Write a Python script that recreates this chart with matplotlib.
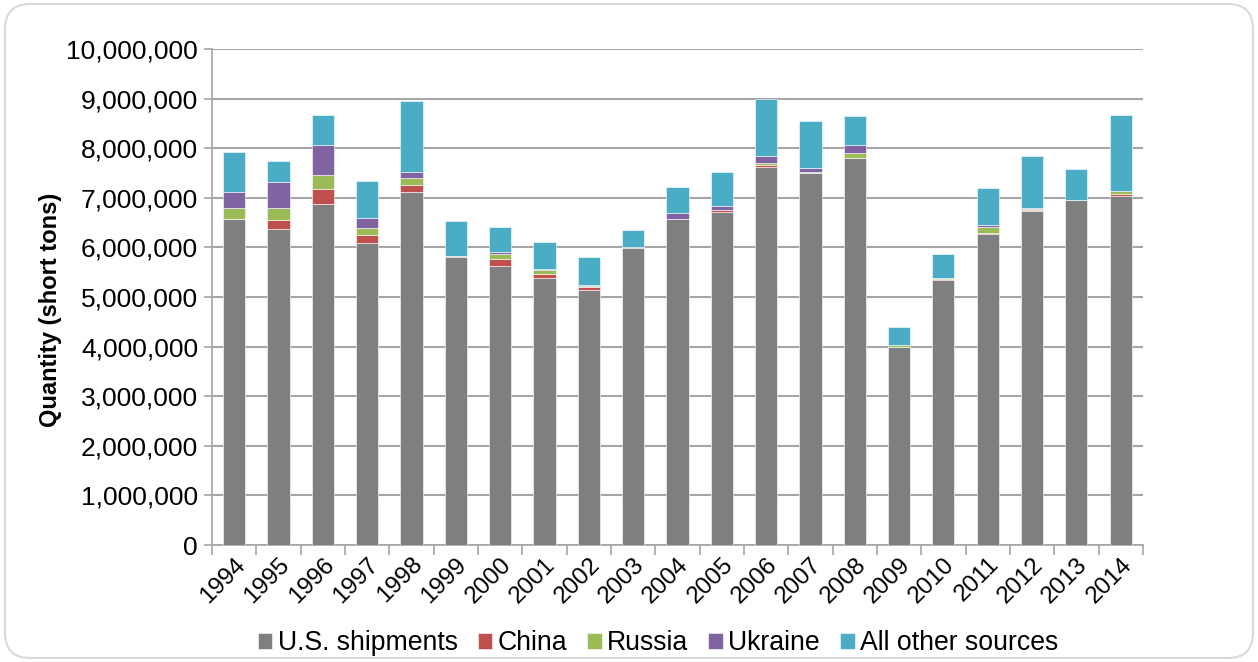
import matplotlib
matplotlib.use("Agg")
import matplotlib.pyplot as plt
import numpy as np
from matplotlib.patches import FancyBboxPatch
from matplotlib.ticker import FuncFormatter, MultipleLocator

years = ["1994", "1995", "1996", "1997", "1998", "1999", "2000", "2001", "2002", "2003",
         "2004", "2005", "2006", "2007", "2008", "2009", "2010", "2011", "2012", "2013", "2014"]
us_shipments = [6570000, 6380000, 6880000, 6090000, 7110000, 5800000, 5620000, 5390000, 5150000, 5990000,
                6570000, 6710000, 7630000, 7500000, 7810000, 4000000, 5350000, 6270000, 6730000, 6950000, 7040000]
china = [0, 180000, 300000, 150000, 150000, 30000, 150000, 80000, 60000, 0,
         0, 50000, 30000, 0, 0, 0, 10000, 30000, 20000, 0, 40000]
russia = [230000, 230000, 270000, 160000, 130000, 5000, 100000, 70000, 20000, 0,
          0, 0, 50000, 30000, 90000, 30000, 20000, 120000, 20000, 0, 50000]
ukraine = [310000, 530000, 620000, 200000, 130000, 0, 30000, 30000, 10000, 20000,
           130000, 70000, 130000, 80000, 170000, 0, 0, 40000, 20000, 0, 0]
other = [810000, 420000, 600000, 740000, 1430000, 690000, 520000, 540000, 560000, 350000,
         520000, 700000, 1160000, 930000, 570000, 360000, 480000, 730000, 1050000, 640000, 1540000]

series = [("U.S. shipments", us_shipments, "#7F7F7F"),
          ("China", china, "#C0504D"),
          ("Russia", russia, "#9BBB59"),
          ("Ukraine", ukraine, "#8064A2"),
          ("All other sources", other, "#4BACC6")]

plt.rcParams['font.family'] = ['Liberation Sans', 'DejaVu Sans']

fig = plt.figure(figsize=(12.58, 6.62), dpi=100)
frame = FancyBboxPatch((0.004, 0.006), 0.992, 0.988, boxstyle="round,pad=0,rounding_size=0.02",
                       transform=fig.transFigure, facecolor="none", edgecolor="#D9D9D9",
                       linewidth=1.5, mutation_aspect=1.9, zorder=0)
fig.patches.append(frame)

ax = fig.add_axes([0.1685, 0.1767, 0.740, 0.7493])
ax.set_facecolor("none")
x = np.arange(len(years))
bottom = np.zeros(len(years))
handles = []
for name, vals, col in series:
    v = np.array(vals, dtype=float)
    b = ax.bar(x, v, 0.5, bottom=bottom, color=col, edgecolor="white", linewidth=0.4, label=name, zorder=3)
    handles.append(b)
    bottom += v

ax.set_xlim(-0.5, len(years) - 0.5)
ax.set_ylim(0, 10000000)
ax.yaxis.set_major_locator(MultipleLocator(1000000))
ax.yaxis.set_major_formatter(FuncFormatter(lambda v, p: f"{int(v):,}"))
ax.grid(axis="y", color="#A6A6A6", linewidth=1.5, zorder=0)
ax.set_axisbelow(True)
for s in ["top", "right"]:
    ax.spines[s].set_visible(False)
for s in ["left", "bottom"]:
    ax.spines[s].set_color("#A6A6A6")
    ax.spines[s].set_linewidth(1.2)

ax.set_xticks(x)
ax.set_xticklabels(years, rotation=45, ha="right", rotation_mode="anchor", fontsize=17.5)
ax.tick_params(axis="x", length=0, pad=6)
ax.set_xticks(np.arange(-0.5, len(years)), minor=True)
ax.tick_params(axis="x", which="minor", length=7, color="#A6A6A6", width=1.2)
ax.tick_params(axis="y", labelsize=19, length=6, color="#A6A6A6", width=1.2, pad=4)
ax.set_ylabel("Quantity (short tons)", fontsize=17, fontweight="bold")
ax.yaxis.set_label_coords(-0.161, 0.474)

fig.legend(handles=handles, labels=[s[0] for s in series], loc="center", bbox_to_anchor=(0.523, 0.028),
           ncol=5, frameon=False, fontsize=19.2, handlelength=0.55, handleheight=0.55,
           handletextpad=0.2, columnspacing=0.75)

fig.savefig("out.png", dpi=100)
